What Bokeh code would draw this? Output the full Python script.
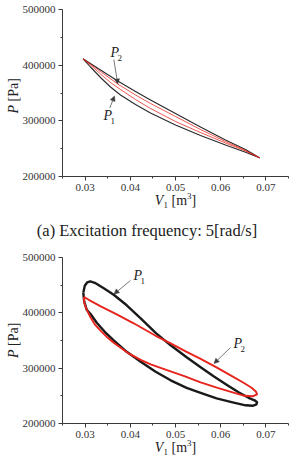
import math

from bokeh.embed import file_html
from bokeh.layouts import column
from bokeh.models import (Arrow, FixedTicker, Label, NormalHead,
                          PrintfTickFormatter, Range1d)
from bokeh.plotting import figure
from bokeh.resources import INLINE

SERIF = "Liberation Serif"

# ---- axis extent and ticks (shared by both panels) ----
X_MIN, X_MAX = 0.025, 0.075
Y_MIN, Y_MAX = 200000, 500000
x_ticks = [0.03, 0.04, 0.05, 0.06, 0.07]
x_minor_ticks = [0.025, 0.035, 0.045, 0.055, 0.065, 0.075]
y_ticks = [200000, 300000, 400000, 500000]
y_minor_ticks = [250000, 350000, 450000]

# ---- (a) excitation frequency 5 rad/s : P-V loops ----
v_a_p1_upper = [0.02954, 0.03341, 0.03723, 0.04115, 0.04447, 0.05000, 0.05553, 0.06106, 0.06549, 0.06858]
p_a_p1_upper = [411440, 391320, 371560, 352700, 337430, 313170, 288920, 265570, 248500, 233590]
v_a_p1_lower = [0.02954, 0.03119, 0.03341, 0.03562, 0.03783, 0.04115, 0.04447, 0.05000, 0.05553, 0.06106, 0.06549, 0.06858]
p_a_p1_lower = [411440, 396710, 377850, 360780, 346410, 329340, 314070, 292520, 273650, 256590, 243470, 233590]

v_a_p2_upper = [0.02954, 0.03341, 0.03723, 0.04115, 0.04447, 0.05000, 0.05553, 0.06106, 0.06549, 0.06858]
p_a_p2_upper = [411440, 388620, 366170, 346410, 331140, 307790, 284430, 262880, 246710, 233590]
v_a_p2_lower = [0.02954, 0.03119, 0.03341, 0.03562, 0.03783, 0.04115, 0.04447, 0.05000, 0.05553, 0.06106, 0.06549, 0.06858]
p_a_p2_lower = [411440, 400300, 384130, 368860, 356290, 338320, 322160, 298800, 279040, 260180, 245810, 233590]

# ---- (b) higher excitation frequency : P-V loops ----
v_b_p1_upper = [0.02960, 0.02993, 0.03048, 0.03114, 0.03214, 0.03413, 0.03633, 0.03921, 0.04230, 0.04561,
                0.04893, 0.05246, 0.05556, 0.05843, 0.06130, 0.06395, 0.06616, 0.06749, 0.06804]
p_b_p1_upper = [436210, 448860, 455180, 456990, 454280, 444340, 432590, 413620, 390120, 363920,
                341330, 319640, 301570, 285300, 269940, 256390, 246450, 241930, 238320]
v_b_p1_lower = [0.02960, 0.02982, 0.03037, 0.03125, 0.03258, 0.03435, 0.03633, 0.03921, 0.04230, 0.04561,
                0.04893, 0.05246, 0.05556, 0.05909, 0.06263, 0.06550, 0.06705, 0.06793, 0.06804]
p_b_p1_lower = [436210, 419940, 405480, 397350, 381990, 365720, 350360, 329580, 311510, 293440,
                278080, 264520, 255490, 245550, 238320, 232900, 231990, 234700, 238320]

v_b_p2_upper = [0.02971, 0.03081, 0.03346, 0.03678, 0.04075, 0.04561, 0.04893, 0.05224, 0.05556, 0.05887,
                0.06219, 0.06506, 0.06683, 0.06782, 0.06804]
p_b_p2_upper = [428980, 423560, 411810, 398250, 381090, 358500, 344940, 330480, 316930, 302470,
                287110, 273560, 264520, 257290, 252780]
v_b_p2_lower = [0.02971, 0.02982, 0.03037, 0.03125, 0.03214, 0.03346, 0.03435, 0.03501, 0.03633, 0.03943,
                0.04230, 0.04451, 0.04827, 0.05180, 0.05556, 0.05931, 0.06263, 0.06528, 0.06705, 0.06804]
p_b_p2_lower = [428980, 418130, 405480, 391030, 379280, 367530, 360300, 354880, 345850, 327770,
                315120, 306990, 296150, 286210, 274460, 264520, 256390, 250060, 249160, 252780]

caption_a = "(a) Excitation frequency: 5[rad/s]"

BLACK = "#1a1a1a"
RED = "#e8231c"
TEXT = "#222222"
AXIS = "#3a3a3a"

FIG_W = 291
AX_LEFT, AX_RIGHT = 62, 288      # pixel extent of the axes inside each figure


def closed_loop(vu, pu, vl, pl):
    """Upper branch left->right, then lower branch back right->left."""
    return list(vu) + list(vl[::-1][1:]), list(pu) + list(pl[::-1][1:])


def make_panel(height, ax_top, ax_bottom):
    """Figure whose frame fills the whole canvas; the axes sit at fixed
    locations so that titles and captions can live inside the frame."""
    sx = (X_MAX - X_MIN) / (AX_RIGHT - AX_LEFT)
    sy = (Y_MAX - Y_MIN) / (ax_bottom - ax_top)
    xr = Range1d(X_MIN - AX_LEFT * sx, X_MIN + (FIG_W - AX_LEFT) * sx)
    yr = Range1d(Y_MAX - (height - ax_top) * sy, Y_MAX + ax_top * sy)

    p = figure(width=FIG_W, height=height, x_range=xr, y_range=yr,
               output_backend="svg", toolbar_location=None,
               min_border_left=0, min_border_right=0,
               min_border_top=0, min_border_bottom=0)
    p.outline_line_color = None
    p.xgrid.grid_line_color = None
    p.ygrid.grid_line_color = None
    p.background_fill_color = "white"
    p.border_fill_color = "white"

    p.xaxis.fixed_location = Y_MIN
    p.xaxis.bounds = (X_MIN, X_MAX)
    p.yaxis.fixed_location = X_MIN
    p.yaxis.bounds = (Y_MIN, Y_MAX)
    p.xaxis.ticker = FixedTicker(ticks=x_ticks, minor_ticks=x_minor_ticks)
    p.yaxis.ticker = FixedTicker(ticks=y_ticks, minor_ticks=y_minor_ticks)
    p.xaxis.formatter = PrintfTickFormatter(format="%.2f")
    p.yaxis.formatter = PrintfTickFormatter(format="%d")
    for ax in (p.xaxis, p.yaxis):
        ax.axis_line_color = AXIS
        ax.major_tick_line_color = AXIS
        ax.minor_tick_line_color = AXIS
        ax.major_tick_in = 0
        ax.major_tick_out = 4
        ax.minor_tick_in = 0
        ax.minor_tick_out = 2
        ax.major_label_text_font = SERIF
        ax.major_label_text_font_size = "11px"
        ax.major_label_text_color = "#333333"
        ax.major_label_standoff = 3

    def fx(px):
        return X_MIN + (px - AX_LEFT) * sx

    def fy(py):
        return Y_MAX - (py - ax_top) * sy

    return p, fx, fy


def text(p, x, y, s, size="14px", style="normal", align="left", angle=0.0):
    p.add_layout(Label(x=x, y=y, text=s, angle=angle, text_align=align,
                       text_baseline="middle", text_font=SERIF,
                       text_font_style=style, text_font_size=size,
                       text_color=TEXT))


def add_axis_titles(p, fx, fy, x_label_cy, y_label_bottom):
    # rotated "P [Pa]"
    text(p, fx(13), fy(y_label_bottom), "P", style="italic", angle=math.pi / 2)
    text(p, fx(13), fy(y_label_bottom - 12), "[Pa]", angle=math.pi / 2)
    # "V1 [m3]"
    parts = [("V", 154.3, 0, "14px", "italic"),
             ("1", 163.0, 4, "9px", "normal"),
             ("[m", 171.0, 0, "14px", "normal"),
             ("3", 186.6, -5, "9px", "normal"),
             ("]", 191.1, 0, "14px", "normal")]
    for s, left, dy, size, style in parts:
        text(p, fx(left), fy(x_label_cy + dy), s, size=size, style=style)


def add_tag(p, fx, fy, name, sub, left, cy, tail, tip):
    text(p, fx(left), fy(cy), name, style="italic")
    text(p, fx(left + 7), fy(cy + 5.5), sub, size="9px")
    head = NormalHead(size=5, fill_color=AXIS, line_color=AXIS, line_width=0.5)
    p.add_layout(Arrow(end=head, x_start=fx(tail[0]), y_start=fy(tail[1]),
                       x_end=fx(tip[0]), y_end=fy(tip[1]),
                       line_color="#555555", line_width=0.8))


# ---------------- panel (a) ----------------
pa, fxa, fya = make_panel(240, 9, 176)

vx, vy = closed_loop(v_a_p1_upper, p_a_p1_upper, v_a_p1_lower, p_a_p1_lower)
pa.line(vx, vy, line_color="#2a2a2a", line_width=1.1, line_join="round")
vx, vy = closed_loop(v_a_p2_upper, p_a_p2_upper, v_a_p2_lower, p_a_p2_lower)
pa.line(vx, vy, line_color=RED, line_width=0.9, line_join="round", line_alpha=0.85)

add_axis_titles(pa, fxa, fya, 200, 113)
add_tag(pa, fxa, fya, "P", "2", 110, 52, (113.3, 59), (117.3, 83.5))
add_tag(pa, fxa, fya, "P", "1", 103, 115, (109.3, 107.5), (114, 95.5))
text(pa, fxa(146.5), fya(230), caption_a, size="16.5px", align="center")

# ---------------- panel (b) ----------------
pb, fxb, fyb = make_panel(230, 17, 183)

vx, vy = closed_loop(v_b_p1_upper, p_b_p1_upper, v_b_p1_lower, p_b_p1_lower)
pb.line(vx, vy, line_color=BLACK, line_width=2.4, line_join="round")
vx, vy = closed_loop(v_b_p2_upper, p_b_p2_upper, v_b_p2_lower, p_b_p2_lower)
pb.line(vx, vy, line_color=RED, line_width=1.9, line_join="round")

add_axis_titles(pb, fxb, fyb, 207, 117.5)
add_tag(pb, fxb, fyb, "P", "1", 133, 35, (130, 40), (113.5, 53.5))
add_tag(pb, fxb, fyb, "P", "2", 233, 103, (230, 107), (213.5, 123))

layout = column(pa, pb)
open("out.html", "w").write(file_html(layout, INLINE))
